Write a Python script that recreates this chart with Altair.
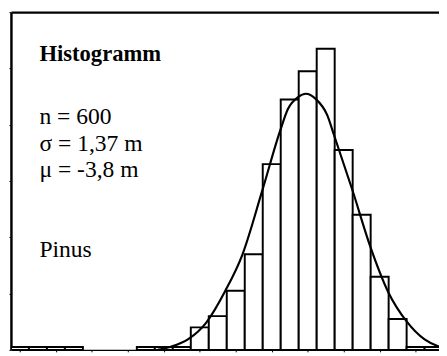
import altair as alt
import pandas as pd

# Histogram bins (bin centres in m, bin width 0.5 m) and counts
bin_centers = [-12.0, -11.5, -11.0, -10.5, -10.0, -9.5, -9.0, -8.5, -8.0, -7.5,
               -7.0, -6.5, -6.0, -5.5, -5.0, -4.5, -4.0, -3.5, -3.0, -2.5,
               -2.0, -1.5, -1.0, -0.5]
counts = [1, 1, 1, 1, 0, 0, 0, 1, 1, 1,
          8, 12, 21, 34, 66, 89, 99, 107, 71, 48,
          26, 11, 1, 1]
bin_width = 0.5

# Fitted normal curve
curve_x = [-8.17, -7.81, -7.31, -6.82, -6.29, -5.82, -5.27, -4.77, -4.55, -4.27,
           -4.05, -3.78, -3.46, -3.26, -2.76, -2.26, -1.76, -1.25, -0.75, -0.39, -0.2]
curve_y = [0.0, 1.1, 3.9, 9.7, 21.0, 33.7, 56.3, 77.7, 85.6, 89.8,
           91.0, 89.2, 83.5, 76.0, 56.9, 36.7, 20.5, 10.1, 3.7, 1.4, 0.9]

x_ticks = [-12, -11, -10, -9, -8, -7, -6, -5, -4, -3, -2, -1]
y_ticks = [0, 20, 40, 60, 80, 100, 120]

title_text = "Histogramm"
info_lines = ["n = 600", "σ = 1,37 m", "μ = -3,8 m"]
species = "Pinus"

bar_df = pd.DataFrame({
    "x0": [c - bin_width / 2 for c in bin_centers],
    "x1": [c + bin_width / 2 for c in bin_centers],
    "count": counts,
})
bar_df = bar_df[bar_df["count"] > 0]
curve_df = pd.DataFrame({"x": curve_x, "y": curve_y})

W, H = 436, 344
x_scale = alt.Scale(domain=[-12.25, -0.35], nice=False, zero=False)
y_scale = alt.Scale(domain=[0, 120], nice=False)
FONT = "Liberation Serif"

y_axis = alt.Axis(labels=False, title=None, grid=False, values=y_ticks,
                  tickSize=2, tickColor="black", tickWidth=1,
                  domainColor="black", domainWidth=2.5)

bars = alt.Chart(bar_df).mark_bar(
    fill="white", stroke="black", strokeWidth=2, clip=True
).encode(
    x=alt.X("x0:Q", scale=x_scale,
            axis=alt.Axis(orient="bottom", labels=False, title=None, grid=False,
                          values=x_ticks, tickSize=2, tickColor="black", tickWidth=1,
                          domainColor="black", domainWidth=1.5)),
    x2="x1:Q",
    y=alt.Y("count:Q", scale=y_scale, axis=y_axis),
    y2=alt.datum(0),
)

curve = alt.Chart(curve_df).mark_line(
    color="black", strokeWidth=2.2, interpolate="monotone", clip=True
).encode(
    x=alt.X("x:Q", scale=x_scale, axis=None),
    y=alt.Y("y:Q", scale=y_scale, axis=y_axis),
)

top = alt.Chart(pd.DataFrame({"x": [-12.25]})).mark_point(opacity=0).encode(
    x=alt.X("x:Q", scale=x_scale,
            axis=alt.Axis(orient="top", labels=False, ticks=False, title=None,
                          grid=False, domainColor="black", domainWidth=2.5)),
)

one = pd.DataFrame({"a": [0]})
texts = [
    alt.Chart(one).mark_text(text=title_text, font=FONT, fontSize=23, fontWeight="bold",
                             align="left", baseline="alphabetic", color="black")
    .encode(x=alt.value(29), y=alt.value(50)),
]
for i, line in enumerate(info_lines):
    texts.append(
        alt.Chart(one).mark_text(text=line, font=FONT, fontSize=24,
                                 align="left", baseline="alphabetic", color="black")
        .encode(x=alt.value(29), y=alt.value(114 + 27 * i))
    )
texts.append(
    alt.Chart(one).mark_text(text=species, font=FONT, fontSize=24,
                             align="left", baseline="alphabetic", color="black")
    .encode(x=alt.value(29), y=alt.value(249))
)

chart = alt.layer(bars, curve, top, *texts).resolve_axis(
    x="independent"
).properties(
    width=W, height=H, padding=0
).configure_view(stroke=None)

chart.save("out.html", embed_options={"renderer": "svg", "actions": False})
